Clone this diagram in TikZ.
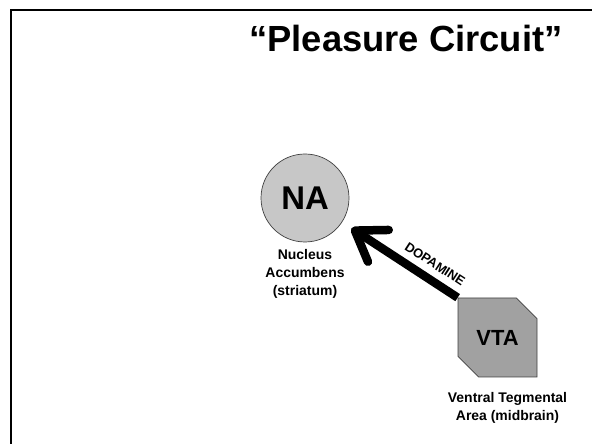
\documentclass[tikz,border=0pt]{standalone}
\usepackage{fontspec}
\setmainfont{Liberation Sans}
\usetikzlibrary{positioning,shapes.misc,arrows.meta,backgrounds}

\definecolor{naGray}{gray}{0.78}
\definecolor{vtaGray}{gray}{0.63}

\tikzset{
  region/.style={draw=black!75, line width=0.7bp, font=\fontsize{33}{36}\selectfont\bfseries},
  caption/.style={align=center, inner sep=0pt, font=\fontsize{14}{18}\selectfont\bfseries},
  pathway/.style={line width=8.5bp, -{Straight Barb[length=28bp, width=38bp, line cap=round, line join=round]}}
}

\begin{document}
\begin{tikzpicture}[x=1bp, y=1bp]
    \useasboundingbox (0,0) rectangle (592,444);

    % frame
    \draw[line width=2.5bp] (11,0) -- (11,434) -- (592,434);

    \node (title) at (406,392) [anchor=base, font=\fontsize{36.5}{40}\selectfont\bfseries] {“Pleasure Circuit”};

    \node (NA) at (305,246) [region, circle, fill=naGray, minimum size=88bp, inner sep=0pt] {NA};
    \node (NAtext) [caption, below=7bp of NA] {Nucleus\\Accumbens\\(striatum)};

    \node (VTA) at (497.5,106.5) [region, chamfered rectangle, chamfered rectangle corners={north east,south west},
        chamfered rectangle xsep=12bp, chamfered rectangle ysep=13bp,
        fill=vtaGray, minimum width=79bp, minimum height=79bp, inner sep=0pt,
        font=\fontsize{22}{26}\selectfont\bfseries] {VTA};
    \node (VTAtext) [caption, below=15bp of VTA.south, xshift=10bp, anchor=north] {Ventral Tegmental\\Area (midbrain)};

    \begin{scope}[on background layer]
    \draw[pathway, shorten >=11bp] (VTA.north west) -- (NA)
        node[pos=0.27, sloped, above=3.5bp, font=\fontsize{13}{15}\selectfont\bfseries] {DOPAMINE};
    \end{scope}
\end{tikzpicture}
\end{document}
